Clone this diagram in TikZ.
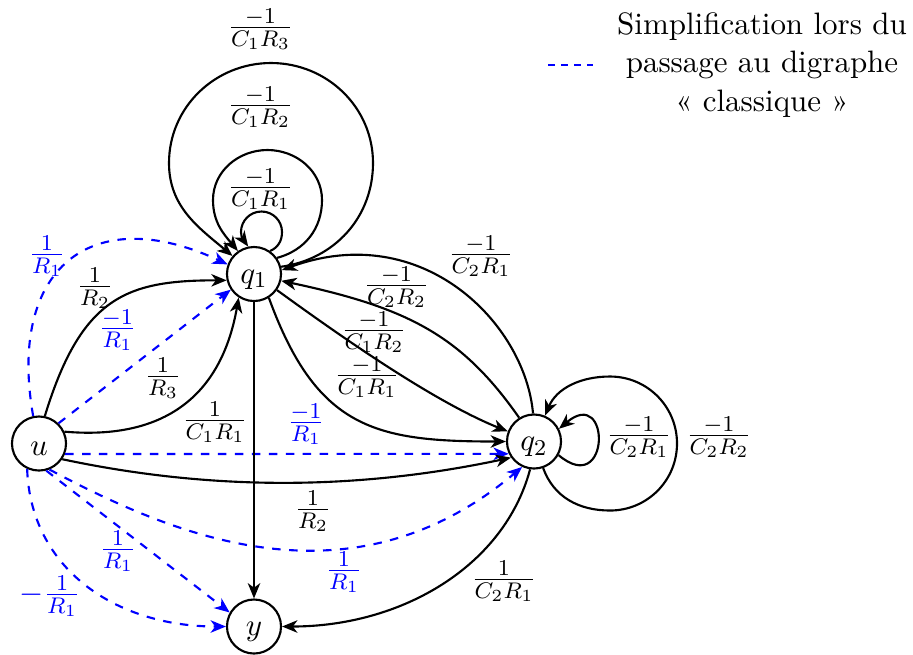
\documentclass[tikz,border=0pt,11pt]{standalone}
\usetikzlibrary{arrows.meta}
\begin{document}
\begin{tikzpicture}[x=0.3534pt,y=0.3534pt,
  >={Stealth[length=5.4pt,width=4.4pt,inset=1.6pt]},
  vertex/.style={circle,draw,line width=0.75pt,minimum size=19.1pt,inner sep=0pt,text height=1.8ex},
  sedge/.style={->,line width=0.75pt},
  dedge/.style={->,line width=0.75pt,blue,dashed},
  elab/.style={inner sep=0pt},
  blab/.style={inner sep=0pt,text=blue}]
\useasboundingbox (0,0) rectangle (913,-654);
% nodes
\node[vertex] (u)  at (39,-443.5)  {$u$};
\node[vertex] (q1) at (254,-274)   {$q_1$};
\node[vertex] (q2) at (534,-441.5) {$q_2$};
\node[vertex] (y)  at (254,-626.5) {$y$};
% loop way-points
\coordinate (s1r) at (282,-232);
\coordinate (s1t) at (261.5,-211.5);
\coordinate (s1l) at (241,-232);
\coordinate (m1r) at (322,-200);
\coordinate (m1t) at (267.5,-150);
\coordinate (m1l) at (213,-200);
\coordinate (b1r) at (373,-163);
\coordinate (b1t) at (271,-63);
\coordinate (b1l) at (169,-163);
\coordinate (b2b) at (610,-510.5);
\coordinate (b2r) at (677,-443.5);
\coordinate (b2t) at (610,-376.5);
% edges from u
\draw[sedge] (u.78) .. controls +(73:125) and +(180:100) .. (q1.193);
\draw[sedge] (u.25) .. controls +(-5:100) and +(-100:100) .. (q1.237);
\draw[dedge] (u.46) -- (q1.214);
\draw[dedge] (u.102) .. controls +(100:150) and +(155:150) .. (q1.160);
\draw[dedge] (u.-22) -- (q2.206);
\draw[sedge] (u.-34) .. controls +(-12:155) and +(192:155) .. (q2.215);
\draw[dedge] (u.-68) .. controls +(-28:140) and +(220:225) .. (q2.245);
\draw[dedge] (u.-75) -- (y.150);
\draw[dedge] (u.-115) .. controls +(-88:100) and +(180:110) .. (y.180);
% edges from q1
\draw[sedge] (q1) -- (y);
\draw[sedge] (q1.-35) .. controls +(-36:80) and +(158:80) .. (q2.159);
\draw[sedge] (q1.-58) .. controls +(-70:140) and +(180:130) .. (q2.180);
% edges from q2
\draw[sedge] (q2.122) .. controls +(125:100) and +(-12:130) .. (q1.-14);
\draw[sedge] (q2.92) .. controls +(95:90) and +(20:150) .. (q1.8);
\draw[sedge] (q2.-98) .. controls +(-105:100) and +(0:120) .. (y.0);
% loops on q1
\draw[sedge] (q1.55) to[out=24,in=-90] (s1r) to[out=90,in=0] (s1t) to[out=180,in=90] (s1l) to[out=-90,in=125] (q1.102);
\draw[sedge] (q1.35) to[out=15,in=-90] (m1r) to[out=90,in=0] (m1t) to[out=180,in=90] (m1l) to[out=-90,in=130] (q1.125);
\draw[sedge] (q1.15) to[out=8,in=-90] (b1r) to[out=90,in=0] (b1t) to[out=180,in=90] (b1l) to[out=-90,in=140] (q1.140);
% loops on q2
\draw[sedge] (q2.-29) .. controls +(-40:68) and +(40:68) .. (q2.27);
\draw[sedge] (q2.-71) to[out=-70,in=180] (b2b) to[out=0,in=-90] (b2r) to[out=90,in=0] (b2t) to[out=180,in=67] (q2.67);
% labels
\node[elab] (l1)  at (260.5,-29)  {$\frac{-1}{C_1R_3}$};
\node[elab] (l2)  at (260.5,-107) {$\frac{-1}{C_1R_2}$};
\node[elab] (l3)  at (260.5,-189) {$\frac{-1}{C_1R_1}$};
\node[elab] (l4)  at (95,-288)    {$\frac{1}{R_2}$};
\node[blab] (l5)  at (117.5,-330) {$\frac{-1}{R_1}$};
\node[blab] (l6)  at (47,-256)    {$\frac{1}{R_1}$};
\node[elab] (l7)  at (163,-378)   {$\frac{1}{R_3}$};
\node[elab] (l8)  at (215,-422)   {$\frac{1}{C_1R_1}$};
\node[blab] (l9)  at (306,-424)   {$\frac{-1}{R_1}$};
\node[elab] (l10) at (481,-256)   {$\frac{-1}{C_2R_1}$};
\node[elab] (l11) at (396.5,-287) {$\frac{-1}{C_2R_2}$};
\node[elab] (l12) at (374,-332)   {$\frac{-1}{C_1R_2}$};
\node[elab] (l13) at (367,-377)   {$\frac{-1}{C_1R_1}$};
\node[elab] (l14) at (639,-437)   {$\frac{-1}{C_2R_1}$};
\node[elab] (l15) at (719,-437)   {$\frac{-1}{C_2R_2}$};
\node[elab] (l16) at (313,-511)   {$\frac{1}{R_2}$};
\node[blab] (l17) at (118,-551)   {$\frac{1}{R_1}$};
\node[blab] (l18) at (344,-572)   {$\frac{1}{R_1}$};
\node[blab] (l19) at (50,-596)    {$-\frac{1}{R_1}$};
\node[elab] (l20) at (504,-581)   {$\frac{1}{C_2R_1}$};
% legend
\node[align=center] (leg) at (762,-65) {Simplification lors du\\passage au digraphe\\«~classique~»};
\coordinate (ls) at (548,-65);
\coordinate (le) at (593,-65);
\draw[blue,line width=0.75pt,dash pattern=on 2.3pt off 2.3pt] (ls) -- (le);
\end{tikzpicture}
\end{document}
